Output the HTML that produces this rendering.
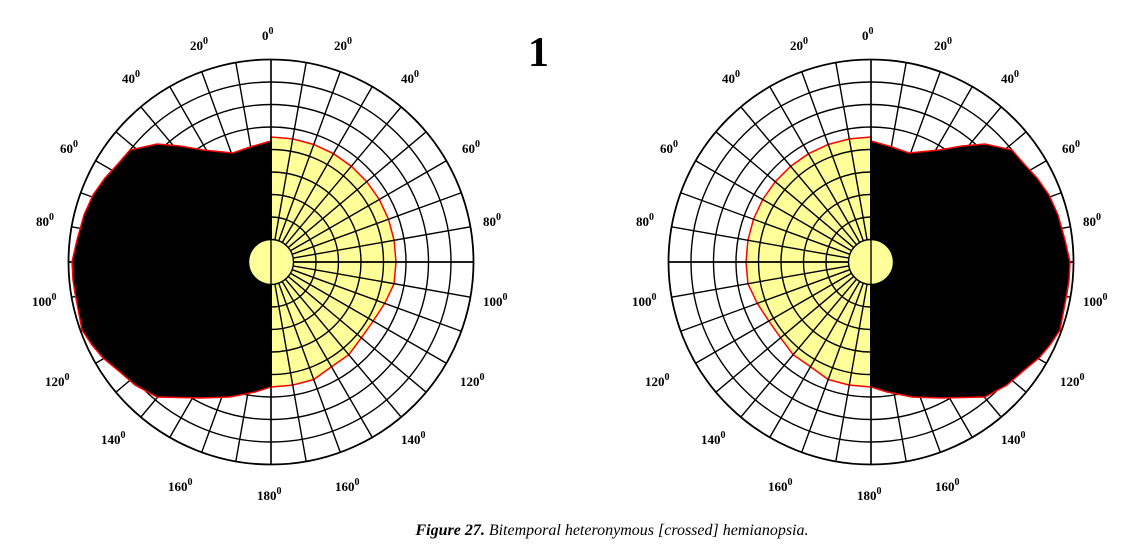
<!DOCTYPE html>
<html><head><meta charset="utf-8"><style>
html,body{margin:0;padding:0;background:#fff;width:1127px;height:550px;overflow:hidden}
svg{display:block}
text{font-family:"Liberation Serif",serif;font-weight:bold;fill:#000}
text.cap{font-weight:normal}
</style></head><body>
<svg id="s" width="1127" height="550" viewBox="0 0 1127 550" xmlns="http://www.w3.org/2000/svg">
<g id="L"></g><g id="R"></g>
<g font-size="13">
<text x="262" y="40">0<tspan dy="-6" font-size="10">0</tspan></text>
<text x="190" y="50">20<tspan dy="-6" font-size="10">0</tspan></text>
<text x="334" y="50">20<tspan dy="-6" font-size="10">0</tspan></text>
<text x="122" y="83">40<tspan dy="-6" font-size="10">0</tspan></text>
<text x="401" y="83">40<tspan dy="-6" font-size="10">0</tspan></text>
<text x="60" y="153">60<tspan dy="-6" font-size="10">0</tspan></text>
<text x="462" y="153">60<tspan dy="-6" font-size="10">0</tspan></text>
<text x="36" y="226">80<tspan dy="-6" font-size="10">0</tspan></text>
<text x="483" y="226">80<tspan dy="-6" font-size="10">0</tspan></text>
<text x="32" y="306">100<tspan dy="-6" font-size="10">0</tspan></text>
<text x="483" y="306">100<tspan dy="-6" font-size="10">0</tspan></text>
<text x="45" y="386">120<tspan dy="-6" font-size="10">0</tspan></text>
<text x="460" y="386">120<tspan dy="-6" font-size="10">0</tspan></text>
<text x="101" y="444">140<tspan dy="-6" font-size="10">0</tspan></text>
<text x="401" y="444">140<tspan dy="-6" font-size="10">0</tspan></text>
<text x="168" y="491">160<tspan dy="-6" font-size="10">0</tspan></text>
<text x="335" y="491">160<tspan dy="-6" font-size="10">0</tspan></text>
<text x="257" y="500">180<tspan dy="-6" font-size="10">0</tspan></text>

<text x="862" y="40">0<tspan dy="-6" font-size="10">0</tspan></text>
<text x="790" y="50">20<tspan dy="-6" font-size="10">0</tspan></text>
<text x="934" y="50">20<tspan dy="-6" font-size="10">0</tspan></text>
<text x="722" y="83">40<tspan dy="-6" font-size="10">0</tspan></text>
<text x="1001" y="83">40<tspan dy="-6" font-size="10">0</tspan></text>
<text x="660" y="153">60<tspan dy="-6" font-size="10">0</tspan></text>
<text x="1062" y="153">60<tspan dy="-6" font-size="10">0</tspan></text>
<text x="636" y="226">80<tspan dy="-6" font-size="10">0</tspan></text>
<text x="1083" y="226">80<tspan dy="-6" font-size="10">0</tspan></text>
<text x="632" y="306">100<tspan dy="-6" font-size="10">0</tspan></text>
<text x="1083" y="306">100<tspan dy="-6" font-size="10">0</tspan></text>
<text x="645" y="386">120<tspan dy="-6" font-size="10">0</tspan></text>
<text x="1060" y="386">120<tspan dy="-6" font-size="10">0</tspan></text>
<text x="701" y="444">140<tspan dy="-6" font-size="10">0</tspan></text>
<text x="1001" y="444">140<tspan dy="-6" font-size="10">0</tspan></text>
<text x="768" y="491">160<tspan dy="-6" font-size="10">0</tspan></text>
<text x="935" y="491">160<tspan dy="-6" font-size="10">0</tspan></text>
<text x="857" y="500">180<tspan dy="-6" font-size="10">0</tspan></text>
</g>
<text x="528" y="66" font-size="42">1</text>
<text class="cap" x="612" y="535" font-size="16" text-anchor="middle" font-style="italic"><tspan style="font-weight:bold">Figure 27.</tspan> Bitemporal heteronymous [crossed] hemianopsia.</text>
</svg>
<script>
var NS="http://www.w3.org/2000/svg";
var blackL=[[271,141],[250,147],[233,153],[203,150],[180,146],[157,144],[130,150],[117,165],[105,178],[93,195],[84,215],[77,240],[72,262],[73,280],[75,293],[82,330],[92,345],[103,358],[120,372],[135,385],[157,397],[200,398],[230,397],[255,392],[271,387]];
function yellowPts(){var p=[];for(var a=0;a<=180;a+=10){var r=125;if(a>=110&&a<=150)r=121;if(a==120||a==130)r=118;var t=a*Math.PI/180;p.push([271+r*Math.sin(t),262-r*Math.cos(t)]);}p.push([271,262]);return p;}
function el(n,at,par){var e=document.createElementNS(NS,n);for(var k in at)e.setAttribute(k,at[k]);par.appendChild(e);return e;}
function build(gid,cx,mir){
 var g=document.getElementById(gid);
 var tf=function(p){var x=p[0]-271;return [(mir?-x:x)+cx,p[1]];};
 var pts=function(a){return a.map(tf).map(function(p){return p[0].toFixed(1)+","+p[1].toFixed(1)}).join(" ");};
 el("polygon",{points:pts(yellowPts()),fill:"#ffff99",stroke:"red","stroke-width":1.5},g);
 var gr=el("g",{stroke:"#000","stroke-width":1.4,fill:"none"},g);
 for(var k=2;k<=9;k++)el("circle",{cx:cx,cy:262,r:22.5*k,"stroke-width":k==9?1.8:1.4},gr);
 for(var a=0;a<360;a+=10){var t=a*Math.PI/180;var s=Math.sin(t),c=Math.cos(t);
  el("line",{x1:cx+22.5*s,y1:262-22.5*c,x2:cx+202.5*s,y2:262-202.5*c},gr);}
 el("line",{x1:cx-202.5,y1:262,x2:cx+202.5,y2:262},gr);
 el("polygon",{points:pts(blackL),fill:"#000",stroke:"red","stroke-width":1.5},g);
 el("line",{x1:cx,y1:141,x2:cx,y2:387,stroke:"#000","stroke-width":2},g);
 el("line",{x1:cx,y1:59.5,x2:cx,y2:464.5,stroke:"#000","stroke-width":1.4},g);
 el("circle",{cx:cx,cy:262,r:22.5,fill:"#ffff99",stroke:"#000","stroke-width":1.4},g);
 el("line",{x1:cx,y1:239.5,x2:cx,y2:284.5,stroke:"#000","stroke-width":1.4},g);
}
build("L",271,false);build("R",871,true);
</script>
</body></html>
